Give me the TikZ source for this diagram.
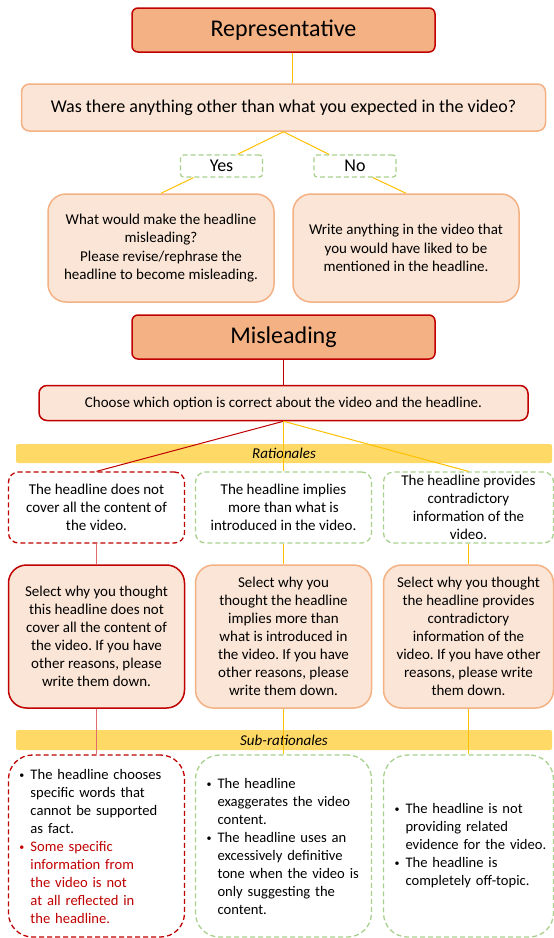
\documentclass[tikz,border=0pt]{standalone}
\usepackage{fontspec}
\setmainfont{Carlito}
\usetikzlibrary{positioning, calc}
\definecolor{darkred}{HTML}{C00000}
\definecolor{peach}{HTML}{F4B183}
\definecolor{lightfill}{HTML}{FBE5D6}
\definecolor{goldline}{HTML}{FFC000}
\definecolor{goldband}{HTML}{FFD966}
\definecolor{leafgreen}{HTML}{A9D18E}
\definecolor{pinkline}{HTML}{E06C6C}
\newcommand{\bulletpt}[1]{\mbox{\makebox[11pt][l]{\raisebox{1pt}{\fontsize{10}{10}\selectfont\textbullet}}#1}}
\newcommand{\hangpt}[1]{\mbox{\hspace*{11pt}#1}}
\frenchspacing

\begin{document}
\begin{tikzpicture}[x=1pt, y=-1pt,
    titlebox/.style={draw=darkred, fill=peach, line width=1.5pt, rounded corners=6pt,
        minimum width=303pt, minimum height=44pt, font=\fontsize{24}{28}\selectfont},
    askbox/.style={draw=peach, fill=lightfill, line width=1.5pt, rounded corners=8pt,
        minimum width=524pt, minimum height=47pt, font=\fontsize{18}{21}\selectfont},
    pickbox/.style={draw=leafgreen, dash pattern=on 5pt off 3pt, line width=1.3pt, rounded corners=3pt,
        minimum width=82pt, minimum height=22pt, inner sep=0pt, font=\fontsize{18}{21}\selectfont},
    answerbox/.style={draw=peach, fill=lightfill, line width=1.5pt, rounded corners=18pt,
        minimum width=226pt, minimum height=108pt, align=center, font=\fontsize{15}{18.3}\selectfont},
    reasonbox/.style={draw=leafgreen, dash pattern=on 5pt off 3pt, line width=1.3pt, rounded corners=10pt,
        minimum width=176pt, minimum height=71pt, align=center, inner sep=1pt, font=\fontsize{15}{18}\selectfont},
    selectbox/.style={draw=peach, fill=lightfill, line width=1.5pt, rounded corners=18pt,
        minimum width=176pt, minimum height=143pt, align=center, inner sep=1pt, font=\fontsize{15}{18}\selectfont},
    subbox/.style={draw=leafgreen, dash pattern=on 5pt off 3pt, line width=1.3pt, rounded corners=24pt,
        minimum width=176pt, minimum height=182pt, text width=154pt, inner xsep=11pt, align=left,
        font=\fontsize{14.6}{18}\selectfont},
    band/.style={fill=goldband, rounded corners=2pt, minimum width=536pt, minimum height=19pt,
        inner sep=0pt, font=\fontsize{15}{17}\selectfont\itshape},
    link/.style={goldline, line width=1pt},
    redlink/.style={darkred, line width=1pt},
    pinklink/.style={pinkline, line width=1pt}]

    % Canvas
    \fill[white] (0,0) rectangle (554,938);
    \useasboundingbox (0,0) rectangle (554,938);

    % Representative part
    \node[titlebox] (rep) at (283.5,30) {Representative};
    \node[askbox] (ask) at (283.5,107.5) {Was there anything other than what you expected in the video?};
    \node[pickbox] (yes) at (221.5,166) {Yes};
    \node[pickbox] (no) at (355,166) {No};
    \node[answerbox] (ansyes) at (161,248) {What would make the headline\\misleading?\\Please revise/rephrase the\\headline to become misleading.};
    \node[answerbox] (ansno) at (406,248) {Write anything in the video that\\you would have liked to be\\mentioned in the headline.};

    % Misleading part
    \node[titlebox] (mis) at (283.5,337) {Misleading};
    \node[askbox, draw=darkred, minimum width=489pt, minimum height=35pt,
        font=\fontsize{15}{18}\selectfont] (choose) at (283.5,403)
        {Choose which option is correct about the video and the headline.};

    % Bands
    \node[band] (ratband) at (284,453.5) {Rationales};
    \node[band, minimum height=20pt] (subband) at (284,740) {Sub-rationales};

    % Rationales
    \node[reasonbox, draw=darkred] (ratA) at (96.5,507.5) {The headline does not\\cover all the content of\\the video.};
    \node[reasonbox] (ratB) at (283.5,507.5) {The headline implies\\more than what is\\introduced in the video.};
    \node[reasonbox, minimum width=170pt] (ratC) at (468.5,507.5) {The headline provides\\contradictory\\information of the\\video.};

    % Follow-up questions
    \node[selectbox, draw=darkred] (selA) at (96.5,636.5) {Select why you thought\\this headline does not\\cover all the content of\\the video. If you have\\other reasons, please\\write them down.};
    \node[selectbox] (selB) at (283.5,636.5) {Select why you\\thought the headline\\implies more than\\what is introduced in\\the video. If you have\\other reasons, please\\write them down.};
    \node[selectbox, minimum width=170pt] (selC) at (468.5,636.5) {Select why you thought\\the headline provides\\contradictory\\information of the\\video. If you have other\\reasons, please write\\them down.};

    % Sub-rationales
    \node[subbox, draw=darkred] (subA) at (96.5,846) {\bulletpt{The headline chooses}\\\hangpt{specific words that}\\\hangpt{cannot be supported}\\\hangpt{as fact.}\\\textcolor{darkred}{\bulletpt{Some specific}}\\\textcolor{darkred}{\hangpt{information from}}\\\textcolor{darkred}{\hangpt{the video is not}}\\\textcolor{darkred}{\hangpt{at all reflected in}}\\\textcolor{darkred}{\hangpt{the headline.}}};
    \node[subbox] (subB) at (283.5,846) {\bulletpt{The headline}\\\hangpt{exaggerates the video}\\\hangpt{content.}\\\bulletpt{The headline uses an}\\\hangpt{excessively definitive}\\\hangpt{tone when the video is}\\\hangpt{only suggesting the}\\\hangpt{content.}};
    \node[subbox, minimum width=170pt, text width=148pt] (subC) at (468.5,846) {\bulletpt{The headline is not}\\\hangpt{providing related}\\\hangpt{evidence for the video.}\\\bulletpt{The headline is}\\\hangpt{completely off-topic.}};

    % Connectors
    \draw[link] ($(rep.south)+(9,0)$) -- ($(ask.north)+(9,0)$);
    \draw[link] (ask.south) -- ($(yes.north)+(16,0)$);
    \draw[link] (ask.south) -- ($(no.north)-(26,0)$);
    \draw[link] ($(yes.south)-(28,0)$) -- (ansyes.north);
    \draw[link] ($(no.south)+(18,0)$) -- (ansno.north);
    \draw[redlink] (mis) -- (choose);
    \draw[redlink] (choose.south) -- (ratA.north);
    \draw[link] (choose.south) -- (ratB.north);
    \draw[link] (choose.south) -- (ratC.north);
    \draw[pinklink] (ratA) -- (selA);
    \draw[link] (ratB) -- (selB);
    \draw[link] (ratC) -- (selC);
    \draw[pinklink] (selA) -- (subA);
    \draw[link] (selB) -- (subB);
    \draw[link] (selC) -- (subC);
\end{tikzpicture}
\end{document}
